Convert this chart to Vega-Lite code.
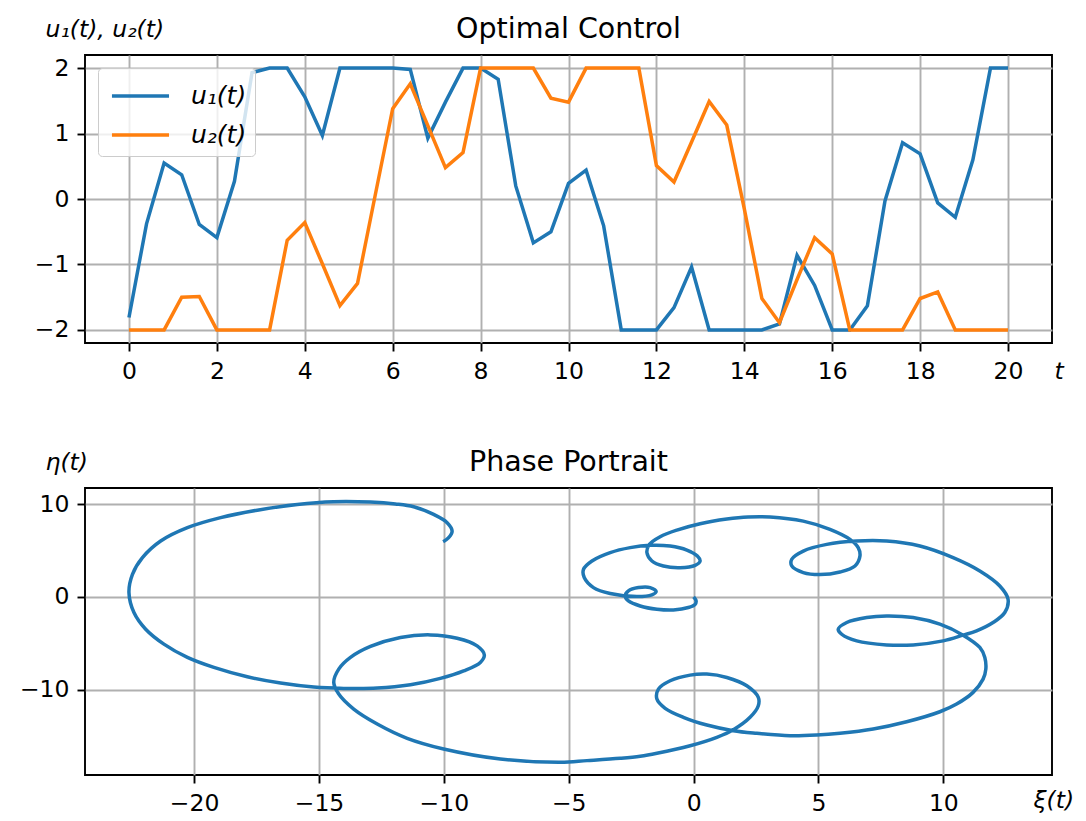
{
  "$schema": "https://vega.github.io/schema/vega-lite/v6.json",
  "background": "white",
  "padding": {"left": 18, "top": 13, "right": 5, "bottom": 0},
  "bounds": "flush",
  "spacing": 145,
  "config": {
    "font": "DejaVu Sans",
    "view": {"stroke": "black", "strokeWidth": 1.9},
    "axis": {"domain": false, "grid": true, "gridColor": "#b0b0b0", "gridWidth": 1.9, "tickColor": "black", "tickWidth": 1.9, "tickSize": 8, "labelFontSize": 23.5, "labelColor": "black", "labelPadding": 8, "titleFontSize": 23.5, "titleFontWeight": "normal", "titleColor": "black", "titleFontStyle": "italic"},
    "title": {"fontSize": 28.5, "fontWeight": "normal", "color": "black", "offset": -26, "baseline": "alphabetic", "frame": "group"}
  },
  "vconcat": [
    {
      "title": "Optimal Control",
      "width": 967,
      "height": 288,
      "data": {"values": [
        {"t": 0, "u1": -1.81, "u2": -2},
        {"t": 0.4, "u1": -0.38, "u2": -2},
        {"t": 0.8, "u1": 0.55, "u2": -2},
        {"t": 1.2, "u1": 0.37, "u2": -1.5},
        {"t": 1.6, "u1": -0.39, "u2": -1.49},
        {"t": 2.0, "u1": -0.59, "u2": -2},
        {"t": 2.4, "u1": 0.27, "u2": -2},
        {"t": 2.8, "u1": 1.93, "u2": -2},
        {"t": 3.2, "u1": 2.0, "u2": -2},
        {"t": 3.6, "u1": 2.0, "u2": -0.63},
        {"t": 4.0, "u1": 1.56, "u2": -0.36},
        {"t": 4.4, "u1": 0.97, "u2": -0.99},
        {"t": 4.8, "u1": 2.0, "u2": -1.63},
        {"t": 5.2, "u1": 2.0, "u2": -1.29},
        {"t": 5.6, "u1": 2.0, "u2": 0.05},
        {"t": 6.0, "u1": 2.0, "u2": 1.38},
        {"t": 6.4, "u1": 1.98, "u2": 1.76},
        {"t": 6.8, "u1": 0.93, "u2": 1.12},
        {"t": 7.2, "u1": 1.48, "u2": 0.48},
        {"t": 7.6, "u1": 2.0, "u2": 0.71},
        {"t": 8.0, "u1": 2.0, "u2": 2.0},
        {"t": 8.4, "u1": 1.83, "u2": 2.0},
        {"t": 8.8, "u1": 0.2, "u2": 2.0},
        {"t": 9.2, "u1": -0.67, "u2": 2.0},
        {"t": 9.6, "u1": -0.5, "u2": 1.54},
        {"t": 10.0, "u1": 0.24, "u2": 1.48},
        {"t": 10.4, "u1": 0.44, "u2": 2.0},
        {"t": 10.8, "u1": -0.41, "u2": 2.0},
        {"t": 11.2, "u1": -2, "u2": 2.0},
        {"t": 11.6, "u1": -2, "u2": 2.0},
        {"t": 12.0, "u1": -2, "u2": 0.51},
        {"t": 12.4, "u1": -1.66, "u2": 0.26},
        {"t": 12.8, "u1": -1.04, "u2": 0.87},
        {"t": 13.2, "u1": -2, "u2": 1.49},
        {"t": 13.6, "u1": -2, "u2": 1.13},
        {"t": 14.0, "u1": -2, "u2": -0.15},
        {"t": 14.4, "u1": -2, "u2": -1.52},
        {"t": 14.8, "u1": -1.91, "u2": -1.89},
        {"t": 15.2, "u1": -0.86, "u2": -1.23},
        {"t": 15.6, "u1": -1.32, "u2": -0.59},
        {"t": 16.0, "u1": -2, "u2": -0.84},
        {"t": 16.4, "u1": -2, "u2": -2},
        {"t": 16.8, "u1": -1.63, "u2": -2},
        {"t": 17.2, "u1": -0.03, "u2": -2},
        {"t": 17.6, "u1": 0.86, "u2": -2},
        {"t": 18.0, "u1": 0.69, "u2": -1.52},
        {"t": 18.4, "u1": -0.06, "u2": -1.42},
        {"t": 18.8, "u1": -0.28, "u2": -2},
        {"t": 19.2, "u1": 0.6, "u2": -2},
        {"t": 19.6, "u1": 2.0, "u2": -2},
        {"t": 20.0, "u1": 2.0, "u2": -2}
      ]},
      "transform": [{"fold": ["u1", "u2"], "as": ["series", "value"]}],
      "mark": {"type": "line", "strokeWidth": 3.5},
      "encoding": {
        "x": {"field": "t", "type": "quantitative", "scale": {"domain": [-1, 21], "nice": false, "zero": false},
          "axis": {"values": [0, 2, 4, 6, 8, 10, 12, 14, 16, 18, 20], "title": "t", "titleAngle": 0, "titleX": 969, "titleY": 35, "titleAlign": "left", "titleBaseline": "alphabetic"}},
        "y": {"field": "value", "type": "quantitative", "scale": {"domain": [-2.2, 2.2], "nice": false, "zero": false},
          "axis": {"values": [-2, -1, 0, 1, 2], "title": "u₁(t),  u₂(t)", "titleAngle": 0, "titleX": -40, "titleY": -19, "titleAlign": "left", "titleBaseline": "alphabetic"}},
        "color": {"field": "series", "type": "nominal", "scale": {"domain": ["u1", "u2"], "range": ["#1f77b4", "#ff7f0e"]},
          "legend": {"title": null, "orient": "none", "legendX": 13, "legendY": 13, "symbolType": "M-0.78,0L2.39,0", "symbolSize": 1296, "symbolStrokeWidth": 3.5, "labelFontSize": 25, "labelFontStyle": "italic", "labelOffset": 45, "labelColor": "black", "labelExpr": "datum.label == 'u1' ? 'u₁(t)' : 'u₂(t)'", "padding": 8, "rowPadding": 6, "fillColor": "rgba(255,255,255,0.8)", "strokeColor": "#cccccc", "cornerRadius": 4}}
      }
    },
    {
      "title": "Phase Portrait",
      "width": 967,
      "height": 287,
      "data": {"values": [
        {"i": 1, "xi": 0, "eta": 0},
        {"i": 2, "xi": 0.10, "eta": -0.43},
        {"i": 3, "xi": 0.06, "eta": -0.79},
        {"i": 4, "xi": -0.21, "eta": -1.14},
        {"i": 5, "xi": -0.81, "eta": -1.40},
        {"i": 6, "xi": -1.47, "eta": -1.32},
        {"i": 7, "xi": -2.14, "eta": -0.97},
        {"i": 8, "xi": -2.61, "eta": -0.43},
        {"i": 9, "xi": -2.74, "eta": 0.11},
        {"i": 10, "xi": -2.61, "eta": 0.65},
        {"i": 11, "xi": -2.21, "eta": 1.01},
        {"i": 12, "xi": -1.74, "eta": 1.01},
        {"i": 13, "xi": -1.50, "eta": 0.58},
        {"i": 14, "xi": -1.67, "eta": 0.22},
        {"i": 15, "xi": -2.27, "eta": 0.04},
        {"i": 16, "xi": -3.34, "eta": 0.37},
        {"i": 17, "xi": -4.01, "eta": 1.01},
        {"i": 18, "xi": -4.38, "eta": 2.09},
        {"i": 19, "xi": -4.41, "eta": 2.98},
        {"i": 20, "xi": -4.07, "eta": 3.88},
        {"i": 21, "xi": -3.34, "eta": 4.78},
        {"i": 22, "xi": -2.54, "eta": 5.32},
        {"i": 23, "xi": -1.74, "eta": 5.57},
        {"i": 24, "xi": -0.94, "eta": 5.49},
        {"i": 25, "xi": -0.27, "eta": 5.06},
        {"i": 26, "xi": 0.15, "eta": 4.41},
        {"i": 27, "xi": 0.26, "eta": 3.88},
        {"i": 28, "xi": 0.06, "eta": 3.41},
        {"i": 29, "xi": -0.54, "eta": 3.16},
        {"i": 30, "xi": -1.21, "eta": 3.34},
        {"i": 31, "xi": -1.67, "eta": 3.88},
        {"i": 32, "xi": -1.87, "eta": 4.78},
        {"i": 33, "xi": -1.77, "eta": 5.67},
        {"i": 34, "xi": -1.34, "eta": 6.50},
        {"i": 35, "xi": -0.67, "eta": 7.21},
        {"i": 36, "xi": 0.26, "eta": 7.90},
        {"i": 37, "xi": 1.33, "eta": 8.40},
        {"i": 38, "xi": 2.18, "eta": 8.63},
        {"i": 39, "xi": 3.06, "eta": 8.63},
        {"i": 40, "xi": 4.39, "eta": 8.18},
        {"i": 41, "xi": 5.46, "eta": 7.29},
        {"i": 42, "xi": 6.26, "eta": 6.21},
        {"i": 43, "xi": 6.59, "eta": 5.32},
        {"i": 44, "xi": 6.66, "eta": 4.41},
        {"i": 45, "xi": 6.46, "eta": 3.34},
        {"i": 46, "xi": 5.86, "eta": 2.69},
        {"i": 47, "xi": 5.06, "eta": 2.41},
        {"i": 48, "xi": 4.39, "eta": 2.63},
        {"i": 49, "xi": 3.93, "eta": 3.34},
        {"i": 50, "xi": 3.93, "eta": 4.06},
        {"i": 51, "xi": 4.39, "eta": 4.95},
        {"i": 52, "xi": 5.33, "eta": 5.67},
        {"i": 53, "xi": 6.53, "eta": 6.03},
        {"i": 54, "xi": 7.73, "eta": 6.03},
        {"i": 55, "xi": 9.06, "eta": 5.49},
        {"i": 56, "xi": 10.39, "eta": 4.24},
        {"i": 57, "xi": 11.46, "eta": 2.80},
        {"i": 58, "xi": 12.26, "eta": 1.18},
        {"i": 59, "xi": 12.59, "eta": -0.25},
        {"i": 60, "xi": 12.46, "eta": -1.68},
        {"i": 61, "xi": 11.99, "eta": -2.76},
        {"i": 62, "xi": 11.33, "eta": -3.66},
        {"i": 63, "xi": 10.79, "eta": -4.12},
        {"i": 64, "xi": 9.99, "eta": -4.74},
        {"i": 65, "xi": 8.79, "eta": -5.17},
        {"i": 66, "xi": 7.73, "eta": -5.17},
        {"i": 67, "xi": 6.53, "eta": -4.74},
        {"i": 68, "xi": 5.93, "eta": -4.02},
        {"i": 69, "xi": 5.79, "eta": -3.48},
        {"i": 70, "xi": 6.13, "eta": -2.76},
        {"i": 71, "xi": 6.93, "eta": -2.22},
        {"i": 72, "xi": 7.73, "eta": -2.05},
        {"i": 73, "xi": 8.79, "eta": -2.22},
        {"i": 74, "xi": 9.86, "eta": -2.94},
        {"i": 75, "xi": 10.79, "eta": -4.12},
        {"i": 76, "xi": 11.46, "eta": -5.45},
        {"i": 77, "xi": 11.66, "eta": -6.52},
        {"i": 78, "xi": 11.70, "eta": -7.78},
        {"i": 79, "xi": 11.59, "eta": -8.86},
        {"i": 80, "xi": 11.19, "eta": -10.29},
        {"i": 81, "xi": 10.53, "eta": -11.55},
        {"i": 82, "xi": 9.86, "eta": -12.38},
        {"i": 83, "xi": 8.53, "eta": -13.46},
        {"i": 84, "xi": 7.19, "eta": -14.24},
        {"i": 85, "xi": 5.86, "eta": -14.70},
        {"i": 86, "xi": 4.93, "eta": -14.89},
        {"i": 87, "xi": 3.86, "eta": -14.96},
        {"i": 88, "xi": 2.53, "eta": -14.70},
        {"i": 89, "xi": 1.59, "eta": -14.42},
        {"i": 90, "xi": 0.53, "eta": -13.81},
        {"i": 91, "xi": -0.41, "eta": -12.98},
        {"i": 92, "xi": -1.14, "eta": -12.01},
        {"i": 93, "xi": -1.47, "eta": -11.01},
        {"i": 94, "xi": -1.41, "eta": -9.94},
        {"i": 95, "xi": -0.94, "eta": -9.04},
        {"i": 96, "xi": -0.14, "eta": -8.43},
        {"i": 97, "xi": 0.53, "eta": -8.32},
        {"i": 98, "xi": 1.33, "eta": -8.68},
        {"i": 99, "xi": 2.13, "eta": -9.58},
        {"i": 100, "xi": 2.59, "eta": -10.83},
        {"i": 101, "xi": 2.59, "eta": -11.73},
        {"i": 102, "xi": 2.26, "eta": -12.98},
        {"i": 103, "xi": 1.59, "eta": -14.32},
        {"i": 104, "xi": 0.93, "eta": -15.13},
        {"i": 105, "xi": -0.14, "eta": -16.04},
        {"i": 106, "xi": -1.47, "eta": -16.86},
        {"i": 107, "xi": -2.14, "eta": -17.18},
        {"i": 108, "xi": -2.94, "eta": -17.40},
        {"i": 109, "xi": -4.27, "eta": -17.65},
        {"i": 110, "xi": -5.34, "eta": -17.83},
        {"i": 111, "xi": -7.74, "eta": -17.47},
        {"i": 112, "xi": -10.01, "eta": -16.39},
        {"i": 113, "xi": -11.47, "eta": -15.24},
        {"i": 114, "xi": -12.67, "eta": -13.70},
        {"i": 115, "xi": -13.61, "eta": -12.09},
        {"i": 116, "xi": -14.21, "eta": -10.47},
        {"i": 117, "xi": -14.41, "eta": -9.21},
        {"i": 118, "xi": -14.21, "eta": -7.78},
        {"i": 119, "xi": -13.74, "eta": -6.52},
        {"i": 120, "xi": -12.94, "eta": -5.34},
        {"i": 121, "xi": -11.74, "eta": -4.37},
        {"i": 122, "xi": -10.54, "eta": -4.09},
        {"i": 123, "xi": -9.47, "eta": -4.45},
        {"i": 124, "xi": -8.67, "eta": -5.27},
        {"i": 125, "xi": -8.38, "eta": -6.24},
        {"i": 126, "xi": -8.54, "eta": -7.06},
        {"i": 127, "xi": -9.21, "eta": -7.97},
        {"i": 128, "xi": -10.14, "eta": -8.78},
        {"i": 129, "xi": -11.34, "eta": -9.47},
        {"i": 130, "xi": -12.67, "eta": -9.83},
        {"i": 131, "xi": -14.01, "eta": -9.86},
        {"i": 132, "xi": -15.21, "eta": -9.72},
        {"i": 133, "xi": -16.54, "eta": -9.29},
        {"i": 134, "xi": -17.87, "eta": -8.61},
        {"i": 135, "xi": -19.21, "eta": -7.60},
        {"i": 136, "xi": -20.27, "eta": -6.52},
        {"i": 137, "xi": -21.21, "eta": -5.09},
        {"i": 138, "xi": -21.94, "eta": -3.48},
        {"i": 139, "xi": -22.41, "eta": -1.68},
        {"i": 140, "xi": -22.61, "eta": 0.47},
        {"i": 141, "xi": -22.47, "eta": 2.44},
        {"i": 142, "xi": -22.07, "eta": 4.24},
        {"i": 143, "xi": -21.34, "eta": 6.03},
        {"i": 144, "xi": -20.27, "eta": 7.47},
        {"i": 145, "xi": -18.94, "eta": 8.55},
        {"i": 146, "xi": -17.47, "eta": 9.36},
        {"i": 147, "xi": -15.87, "eta": 9.98},
        {"i": 148, "xi": -14.41, "eta": 10.27},
        {"i": 149, "xi": -12.94, "eta": 10.23},
        {"i": 150, "xi": -11.94, "eta": 10.03},
        {"i": 151, "xi": -11.21, "eta": 9.73},
        {"i": 152, "xi": -10.41, "eta": 8.90},
        {"i": 153, "xi": -9.87, "eta": 8.01},
        {"i": 154, "xi": -9.67, "eta": 7.10},
        {"i": 155, "xi": -9.81, "eta": 6.39},
        {"i": 156, "xi": -10.03, "eta": 5.96}
      ]},
      "mark": {"type": "line", "strokeWidth": 3.5, "color": "#1f77b4", "interpolate": "catmull-rom"},
      "encoding": {
        "x": {"field": "xi", "type": "quantitative", "scale": {"domain": [-24.37, 14.35], "nice": false, "zero": false},
          "axis": {"values": [-20, -15, -10, -5, 0, 5, 10], "title": "ξ(t)", "titleAngle": 0, "titleX": 948, "titleY": 32, "titleAlign": "left", "titleBaseline": "alphabetic"}},
        "y": {"field": "eta", "type": "quantitative", "scale": {"domain": [-19.2, 11.75], "nice": false, "zero": false},
          "axis": {"values": [-10, 0, 10], "title": "η(t)", "titleAngle": 0, "titleX": -40, "titleY": -19, "titleAlign": "left", "titleBaseline": "alphabetic"}},
        "order": {"field": "i", "type": "quantitative"}
      }
    }
  ]
}
